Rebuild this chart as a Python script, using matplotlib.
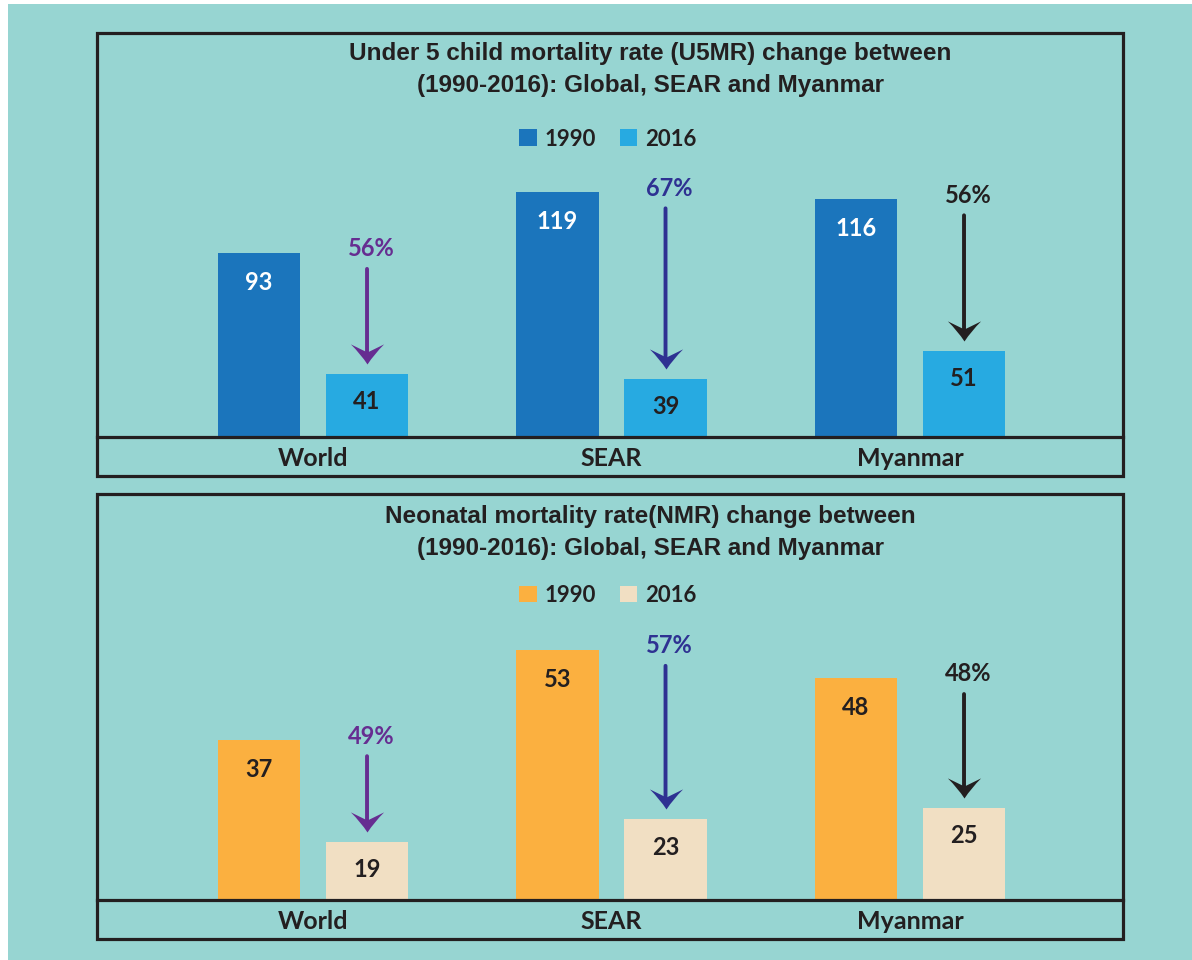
import numpy as np
import matplotlib.pyplot as plt
from matplotlib.patches import Rectangle
from matplotlib.path import Path
from matplotlib.transforms import ScaledTranslation

categories = ['World', 'SEAR', 'Myanmar']
years = ['1990', '2016']
u5mr_1990 = [93, 119, 116]
u5mr_2016 = [41, 39, 51]
u5mr_drop = ['56%', '67%', '56%']
nmr_1990 = [37, 53, 48]
nmr_2016 = [19, 23, 25]
nmr_drop = ['49%', '57%', '48%']

BG = '#97D5D2'
INK = '#231F20'
ARROW_COLORS = ['#662D91', '#2E3192', '#231F20']
W, H = 1192, 960

# arrowhead shape (tip at origin, pointing down)
HEAD = Path(
    [(0, 0), (0.4, 0.62), (1, 1.21), (0, 0.72), (-1, 1.21), (-0.4, 0.62), (0, 0), (0, 0)],
    [Path.MOVETO, Path.CURVE3, Path.CURVE3, Path.LINETO, Path.LINETO, Path.CURVE3, Path.CURVE3,
     Path.CLOSEPOLY])

plt.rcParams['font.family'] = ['Lato', 'DejaVu Sans']

fig = plt.figure(figsize=(W / 100, H / 100), dpi=100, facecolor='white')
fig.patches.append(Rectangle((8 / W, 0), 1 - 8 / W, 1 - 4 / H, transform=fig.transFigure,
                             facecolor=BG, edgecolor='none', zorder=-10))


def px_box(x0, y0, x1, y1):
    # pixel box (top-left origin) -> figure fraction rect
    return [x0 / W, 1 - y1 / H, (x1 - x0) / W, (y1 - y0) / H]


def panel(rect, box, v1, v2, drops, colors, label_colors, title, ylim, title_y, leg_y):
    fig.patches.append(Rectangle(box[:2], box[2], box[3], transform=fig.transFigure,
                                 facecolor='none', edgecolor=INK, lw=2.3, zorder=5))
    ax = fig.add_axes(rect)
    ax.set_facecolor('none')
    x = np.arange(len(categories))
    off, bw = 0.181, 0.275
    b1 = ax.bar(x - off, v1, bw, color=colors[0], label=years[0], bottom=0)
    b2 = ax.bar(x + off, v2, bw, color=colors[1], label=years[1], bottom=0)
    ax.set_xlim(-0.7236, 2.7136)
    ax.set_ylim(*ylim)
    for i in range(len(categories)):
        ax.annotate(str(v1[i]), (x[i] - off, v1[i]), xytext=(0, -21), textcoords='offset points',
                    ha='center', va='center', fontsize=17, fontweight='bold', color=label_colors[0])
        ax.annotate(str(v2[i]), (x[i] + off, v2[i]), xytext=(0, -20), textcoords='offset points',
                    ha='center', va='center', fontsize=17, fontweight='bold', color=label_colors[1])
        c = ARROW_COLORS[i]
        ax.annotate(drops[i], (x[i] + off, v1[i]), xytext=(3, 3), textcoords='offset points',
                    ha='center', va='center', fontsize=17, fontweight='bold', color=c)
        ax.annotate('', xy=(x[i] + off, v2[i]), xytext=(x[i] + off, v1[i]),
                    arrowprops=dict(arrowstyle='-', color=c, lw=2.8, shrinkA=11.5, shrinkB=14))
        tr = ax.transData + ScaledTranslation(0, 0.10, fig.dpi_scale_trans)
        ax.plot([x[i] + off], [v2[i]], marker=HEAD, markersize=29, color=c, mew=0,
                transform=tr, clip_on=False)
    ax.set_xticks(x, categories)
    ax.tick_params(axis='x', length=0, pad=7, labelsize=18, labelcolor=INK)
    for t in ax.get_xticklabels():
        t.set_fontweight('bold')
    ax.set_yticks([])
    for s in ['top', 'left', 'right']:
        ax.spines[s].set_visible(False)
    ax.spines['bottom'].set_linewidth(2.3)
    ax.spines['bottom'].set_color(INK)
    for k, line in enumerate(title):
        ax.text(0.539, title_y[k], line, transform=ax.transAxes, ha='center', va='baseline',
                fontsize=17.5, fontweight='bold', color=INK, family='Liberation Sans')
    ax.legend(handles=[b1, b2], loc='center', bbox_to_anchor=(0.498, leg_y), ncol=2,
              frameon=False, handlelength=0.77, handleheight=0.77, handletextpad=0.35,
              columnspacing=1.1, prop={'size': 16, 'weight': 'bold'}, labelcolor=INK)
    return ax


panel(px_box(97, 33, 1123, 437), px_box(97, 33, 1123, 476), u5mr_1990, u5mr_2016, u5mr_drop,
      ['#1B75BC', '#27AAE1'], ['white', INK],
      ['Under 5 child mortality rate (U5MR) change between',
       '(1990-2016): Global, SEAR and Myanmar'],
      (14, 187.4), [0.933, 0.854], 0.7376)

panel(px_box(97, 494, 1123, 900), px_box(97, 494, 1123, 939), nmr_1990, nmr_2016, nmr_drop,
      ['#FBB040', '#F1DFC3'], [INK, INK],
      ['Neonatal mortality rate(NMR) change between',
       '(1990-2016): Global, SEAR and Myanmar'],
      (8.7, 80.6), [0.9286, 0.850], 0.751)

fig.savefig('out.png', dpi=100, facecolor=fig.get_facecolor())
